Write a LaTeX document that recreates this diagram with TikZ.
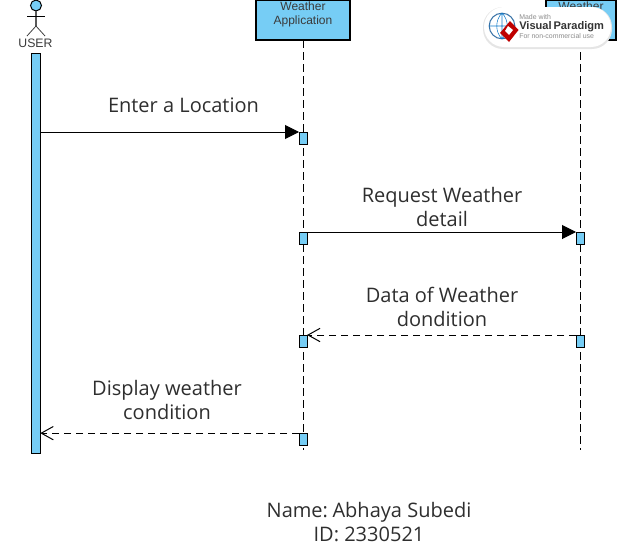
\documentclass[tikz,border=0pt]{standalone}
\usepackage{fontspec}
\setmainfont{Open Sans}
\newfontfamily\arialf{Liberation Sans}
\usetikzlibrary{arrows.meta,positioning}
\definecolor{fillblue}{HTML}{76CDF5}
\definecolor{labelgray}{HTML}{2E2E2E}
\definecolor{boxtext}{HTML}{3A3A3A}
\tikzset{
  actbar/.style={draw=black,fill=fillblue,line width=0.75pt,minimum width=6pt,minimum height=9pt,inner sep=0pt,outer sep=0pt},
  headbox/.style={draw=black,fill=fillblue,line width=0.8pt,inner sep=0pt,outer sep=0pt},
  lifeline/.style={draw=black,line width=0.75pt,dash pattern=on 6pt off 3pt},
  callarrow/.style={draw=black,line width=0.75pt,-{Triangle[length=10.5pt,width=10.5pt]}},
  retarrow/.style={draw=black,line width=0.6pt,dash pattern=on 5pt off 4pt,-{Straight Barb[length=9pt,width=10pt,line width=0.75pt]}},
  msg/.style={font=\fontsize{15}{18}\selectfont,text=labelgray,align=center,inner sep=0pt},
  boxlabel/.style={font=\arialf\fontsize{9}{10.5}\selectfont,text=boxtext,align=center,inner sep=0pt}
}
\begin{document}
\begin{tikzpicture}[x=0.75pt,y=-0.75pt]
\useasboundingbox (0,0) rectangle (617,546);
\clip (0,0) rectangle (617,546);
% actor
\draw[fill=fillblue,draw=black,line width=0.75pt] (36,5.5) circle[radius=4.1pt];
\draw[draw=black!65,line width=0.9pt] (36,11) -- (36,26);
\draw[draw=black,line width=0.6pt] (27,16) -- (45,16);
\draw[draw=black!75,line width=0.6pt] (27,36) -- (36,26) -- (45,36);
\node[boxlabel,font=\arialf\fontsize{9.2}{11}\selectfont] (userlabel) at (35.5,43.2) {USER};
\node[actbar,minimum width=6.4pt,minimum height=300pt] (userbar) at (36,253) {};
% heads
\node[headbox,minimum width=70.5pt,minimum height=30pt] (apphead) at (303,20) {};
\node[boxlabel] (applabel) at (303,14.5) {Weather\\Application};
\node[headbox,minimum width=52.5pt,minimum height=30pt] (svchead) at (581,20) {};
\node[boxlabel] (svclabel) at (581,6) {Weather};
% activations
\coordinate (append) at (303,450);
\coordinate (svcend) at (580,450);
\draw[lifeline] (apphead.south) -- (append);
\draw[lifeline] (svchead.south -| svcend) -- (svcend);
\node[actbar] (a1) at (303,138) {};
\node[actbar] (a2) at (303,238) {};
\node[actbar] (a3) at (303,341) {};
\node[actbar,minimum height=9.5pt] (a4) at (303,439.5) {};
\node[actbar] (s2) at (580,238) {};
\node[actbar] (s3) at (580,341) {};
% messages
\draw[callarrow] (userbar.east |- a1.north) -- (a1.north west);
\draw[callarrow] (a2.north east) -- (s2.north west);
\draw[retarrow] (s3.north west) -- (a3.north east);
\draw[retarrow] (a4.north west) -- (userbar.east |- a4.north);
\node[msg] (m1) at (183.5,105) {Enter a Location};
\node[msg] (m2) at (442,207) {Request Weather\\detail};
\node[msg] (m3) at (442,307) {Data of Weather\\dondition};
\node[msg] (m4) at (167,400) {Display weather\\condition};
\node[msg] (nm) at (369,522) {Name:\kern-0.5pt\ Abhaya Subedi\\ID: 2330521};
% watermark
\fill[black!10,rounded corners=15pt] (483,7) rectangle (612,49);
\fill[white,rounded corners=15pt] (484,7) rectangle (611,47);
\draw[fill=white,draw=black!35!cyan!70!blue,line width=0.8pt] (502,26) circle[radius=9.6pt];
\draw[draw=cyan!60!blue,line width=0.4pt] (502,13) -- (502,39) (489,26) -- (515,26) (502,13) .. controls (495,20) and (495,32) .. (502,39) (502,13) .. controls (509,20) and (509,32) .. (502,39);
\fill[red!75!black] (510,21) -- (518.5,30) -- (509,42) -- (500,33) -- cycle;
\fill[white] (508,26) -- (513,30) -- (509,35) -- (505,31) -- cycle;
\node[anchor=west,inner sep=0pt,text=black!45,font=\arialf\fontsize{5.2}{6}\selectfont] (wm1) at (519,17) {Made with};
\node[anchor=west,inner sep=0pt,text=black!80,font=\arialf\bfseries\fontsize{8.3}{10}\selectfont] (wm2) at (519,26.5) {Visual\,Paradigm};
\node[anchor=west,inner sep=0pt,text=black!45,font=\arialf\fontsize{5.2}{6}\selectfont] (wm3) at (519,36.5) {For non-commercial use};
\end{tikzpicture}
\end{document}
